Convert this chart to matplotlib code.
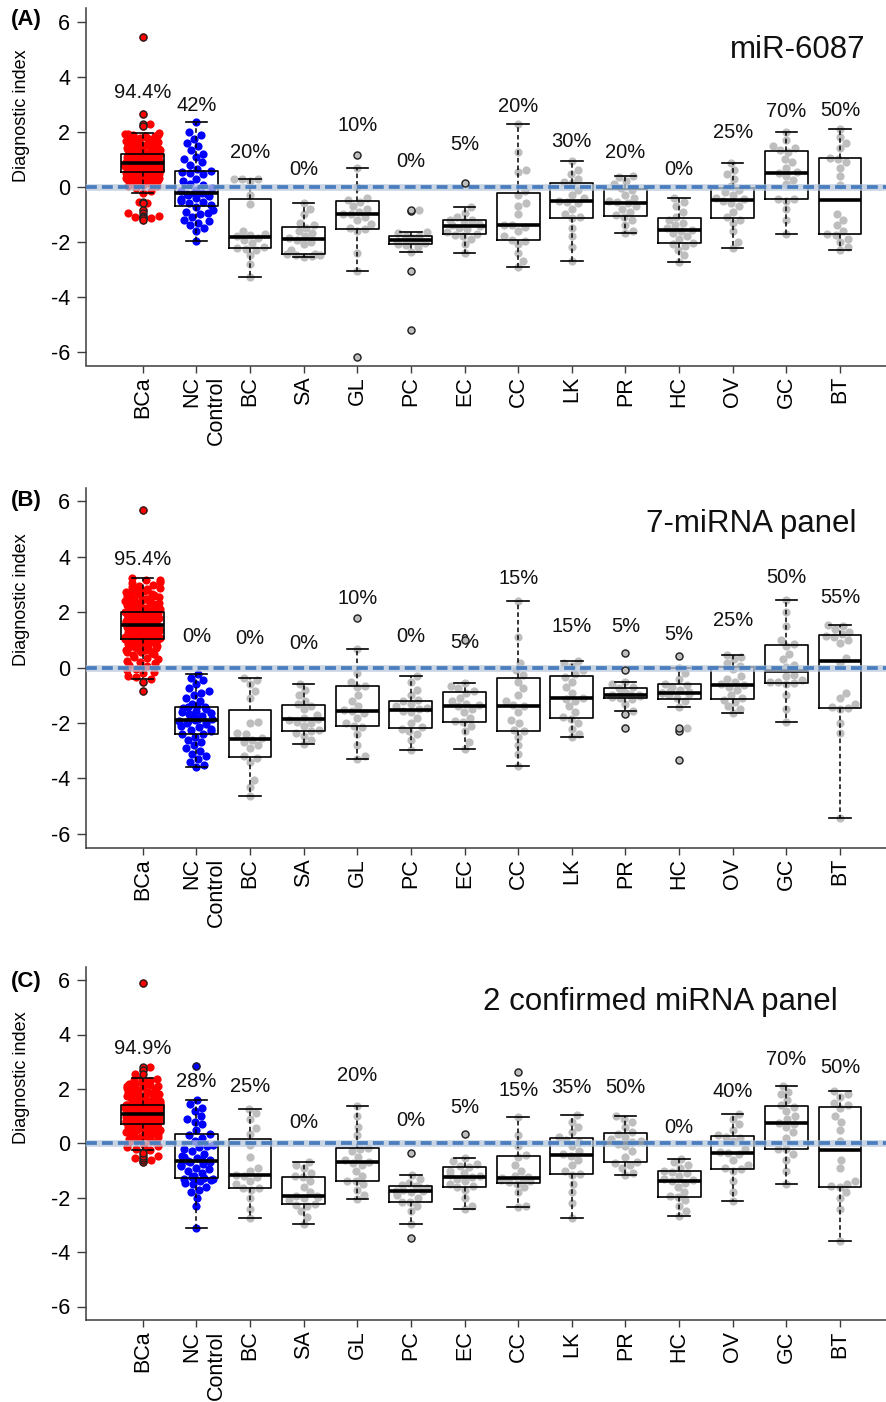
"""
Diagnostic index per sample group for three classifiers (miR-6087, 7-miRNA panel,
2 confirmed miRNA panel): beeswarm points with box plots and detection rates.
"""
import numpy as np
import matplotlib
matplotlib.use("Agg")
import matplotlib.pyplot as plt

plt.rcParams["font.family"] = ["Liberation Sans", "DejaVu Sans"]
plt.rcParams["axes.unicode_minus"] = False

GROUPS = ["BCa", "NC\nControl", "BC", "SA", "GL", "PC", "EC", "CC", "LK", "PR",
          "HC", "OV", "GC", "BT"]
TAGS = ["(A)", "(B)", "(C)"]
TITLES = ["miR-6087", "7-miRNA panel", "2 confirmed miRNA panel"]

# ---- percentages printed above each group -------------------------------------
pct_a = ["94.4%", "42%", "20%", "0%", "10%", "0%", "5%", "20%", "30%", "20%", "0%", "25%", "70%", "50%"]
pct_b = ["95.4%", "0%", "0%", "0%", "10%", "0%", "5%", "15%", "15%", "5%", "5%", "25%", "50%", "55%"]
pct_c = ["94.9%", "28%", "25%", "0%", "20%", "0%", "5%", "15%", "35%", "50%", "0%", "40%", "70%", "50%"]

# ---- box statistics: (low whisker, Q1, median, Q3, high whisker)
box_a = [(-0.22, 0.55, 0.85, 1.19, 1.94), (-1.97, -0.70, -0.22, 0.57, 2.36),
         (-3.27, -2.24, -1.82, -0.46, 0.30), (-2.55, -2.45, -1.90, -1.45, -0.60),
         (-3.05, -1.53, -0.99, -0.51, 0.70), (-2.36, -2.10, -1.95, -1.79, -1.64),
         (-2.40, -1.73, -1.42, -1.21, -0.75), (-2.93, -1.94, -1.39, -0.22, 2.30),
         (-2.70, -1.13, -0.52, 0.15, 0.93), (-1.70, -1.07, -0.58, -0.07, 0.39),
         (-2.73, -2.06, -1.58, -1.15, -0.42), (-2.22, -1.15, -0.48, -0.04, 0.87),
         (-1.73, -0.45, 0.51, 1.31, 2.00), (-2.30, -1.73, -0.48, 1.03, 2.10)]
box_b = [(-0.42, 1.02, 1.54, 2.02, 3.22), (-3.59, -2.39, -1.88, -1.41, -0.23),
         (-4.65, -3.23, -2.57, -1.52, -0.38), (-2.75, -2.27, -1.86, -1.34, -0.59),
         (-3.30, -2.12, -1.56, -0.68, 0.66), (-2.99, -2.18, -1.52, -1.20, -0.30),
         (-2.94, -1.95, -1.38, -0.88, -0.54), (-3.54, -2.27, -1.38, -0.38, 2.41),
         (-2.52, -1.82, -1.10, -0.29, 0.24), (-1.56, -1.10, -0.98, -0.72, -0.50),
         (-1.41, -1.14, -0.90, -0.60, -0.02), (-1.64, -1.13, -0.62, 0.01, 0.46),
         (-1.97, -0.54, -0.11, 0.81, 2.44), (-5.41, -1.44, 0.25, 1.18, 1.54)]
box_c = [(-0.25, 0.71, 1.08, 1.41, 2.39), (-3.13, -1.29, -0.64, 0.33, 1.59),
         (-2.73, -1.65, -1.17, 0.15, 1.26), (-2.98, -2.24, -1.93, -1.23, -0.68),
         (-2.06, -1.39, -0.70, -0.18, 1.37), (-2.98, -2.15, -1.75, -1.56, -1.17),
         (-2.42, -1.60, -1.23, -0.86, -0.53), (-2.35, -1.47, -1.26, -0.47, 0.98),
         (-2.73, -1.14, -0.43, 0.18, 1.03), (-1.17, -0.70, 0.02, 0.39, 1.00),
         (-2.67, -1.96, -1.37, -1.02, -0.59), (-2.11, -0.94, -0.34, 0.28, 1.08),
         (-1.51, -0.21, 0.73, 1.38, 2.12), (-3.58, -1.60, -0.25, 1.35, 1.92)]

# ---- individual samples ----------------------------------------------------------
bca_a = [5.45, 2.65, 2.30, 2.20,
         -0.22, -0.15, -0.05, -0.55, -0.60, -0.85, -0.95, -1.05, -1.10, -1.15, -1.20,
         0.02, 0.04, 0.06, 0.08, 0.10, 0.12, 0.13, 0.15, 0.17, 0.19, 0.20, 0.22, 0.24,
         0.25, 0.27, 0.28, 0.30, 0.31, 0.33, 0.34, 0.36, 0.37, 0.38, 0.40, 0.41, 0.42,
         0.43, 0.44, 0.45, 0.46, 0.47, 0.48, 0.49, 0.50, 0.51, 0.52, 0.53, 0.54,
         0.55, 0.56, 0.56, 0.57, 0.58, 0.58, 0.59, 0.60, 0.60, 0.61, 0.62, 0.62, 0.63,
         0.64, 0.64, 0.65, 0.66, 0.66, 0.67, 0.68, 0.68, 0.69, 0.70, 0.70, 0.71, 0.72,
         0.72, 0.73, 0.74, 0.74, 0.75, 0.76, 0.76, 0.77, 0.78, 0.78, 0.79, 0.80, 0.80,
         0.81, 0.82, 0.82, 0.83, 0.83, 0.84, 0.84, 0.85, 0.85, 0.85,
         0.86, 0.86, 0.87, 0.88, 0.88, 0.89, 0.90, 0.90, 0.91, 0.92, 0.92, 0.93, 0.94,
         0.94, 0.95, 0.96, 0.96, 0.97, 0.98, 0.98, 0.99, 1.00, 1.00, 1.01, 1.02, 1.02,
         1.03, 1.04, 1.04, 1.05, 1.06, 1.06, 1.07, 1.08, 1.08, 1.09, 1.10, 1.10, 1.11,
         1.12, 1.12, 1.13, 1.14, 1.15, 1.16, 1.17, 1.18, 1.19, 1.19,
         1.20, 1.21, 1.22, 1.24, 1.25, 1.26, 1.28, 1.29, 1.30, 1.32, 1.33, 1.35, 1.36,
         1.38, 1.39, 1.40, 1.42, 1.44, 1.45, 1.47, 1.48, 1.50, 1.52, 1.54, 1.55, 1.57,
         1.59, 1.60, 1.62, 1.64, 1.66, 1.68, 1.70, 1.72, 1.74, 1.76, 1.78, 1.80, 1.83,
         1.85, 1.87, 1.89, 1.91, 1.93, 1.94]
nc_a = [-1.97, -1.60, -1.50, -1.40, -1.30, -1.25, -1.20, -1.10, -1.00, -0.95, -0.90,
        -0.85, -0.72, -0.68, -0.60, -0.55, -0.50, -0.45, -0.40, -0.35, -0.30, -0.28,
        -0.25, -0.24, -0.23, -0.21, -0.15, -0.10, -0.05, 0.05, 0.10, 0.20, 0.30, 0.45,
        0.50, 0.55, 0.57, 0.65, 0.80, 0.90, 1.00, 1.10, 1.20, 1.35, 1.50, 1.60, 1.75,
        1.90, 2.00, 2.36]
rest_a = [
    [-3.27, -2.8, -2.5, -2.3, -2.25, -2.22, -2.2, -2.05, -1.95, -1.85, -1.8, -1.75, -1.72, -1.6, -0.63, -0.3, 0.22, 0.28, 0.3, 0.3],
    [-2.55, -2.52, -2.5, -2.47, -2.45, -2.44, -2.3, -2.1, -2.0, -1.92, -1.88, -1.8, -1.7, -1.6, -1.5, -1.4, -1.3, -1.0, -0.8, -0.6],
    [-6.18, -3.05, -2.4, -1.6, -1.55, -1.5, -1.35, -1.2, -1.1, -1.0, -0.98, -0.9, -0.8, -0.7, -0.55, -0.47, -0.4, -0.02, 0.7, 1.16],
    [-5.21, -3.07, -2.36, -2.2, -2.12, -2.08, -2.05, -2.0, -1.98, -1.96, -1.94, -1.9, -1.88, -1.85, -1.8, -1.78, -1.7, -1.64, -0.88, -0.85],
    [-2.4, -2.1, -1.9, -1.8, -1.75, -1.72, -1.65, -1.55, -1.5, -1.44, -1.4, -1.35, -1.3, -1.25, -1.22, -1.2, -1.1, -0.95, -0.75, 0.15],
    [-2.93, -2.7, -2.4, -2.1, -1.96, -1.92, -1.8, -1.6, -1.45, -1.4, -1.38, -1.0, -0.7, -0.6, -0.3, -0.15, 0.55, 0.61, 1.27, 2.3],
    [-2.7, -2.2, -1.8, -1.5, -1.15, -1.1, -1.0, -0.8, -0.6, -0.55, -0.5, -0.4, -0.3, -0.1, 0.12, 0.18, 0.3, 0.45, 0.6, 0.93],
    [-1.7, -1.6, -1.4, -1.2, -1.1, -1.04, -0.9, -0.8, -0.7, -0.6, -0.56, -0.5, -0.4, -0.3, -0.1, -0.04, 0.1, 0.2, 0.35, 0.39],
    [-2.73, -2.5, -2.3, -2.15, -2.08, -2.04, -1.9, -1.8, -1.7, -1.6, -1.56, -1.5, -1.4, -1.3, -1.2, -1.1, -0.9, -0.7, -0.55, -0.42],
    [-2.22, -2.0, -1.6, -1.3, -1.2, -1.1, -0.9, -0.7, -0.6, -0.5, -0.46, -0.4, -0.3, -0.2, -0.1, 0.02, 0.3, 0.45, 0.6, 0.87],
    [-1.73, -1.2, -0.8, -0.5, -0.45, -0.44, 0.1, 0.25, 0.4, 0.5, 0.52, 0.7, 0.9, 1.0, 1.28, 1.34, 1.4, 1.5, 1.7, 2.0],
    [-2.3, -2.2, -2.0, -1.9, -1.75, -1.71, -1.6, -1.4, -1.2, -1.0, 0.05, 0.4, 0.7, 0.9, 1.0, 1.06, 1.4, 1.6, 1.8, 2.1],
]

bca_b = [5.68, -0.86, -0.50, -0.42, -0.35, -0.30, -0.20, -0.15, -0.10, -0.05,
         0.05, 0.10, 0.15, 0.20, 0.25, 0.30, 0.35, 0.40, 0.44, 0.48, 0.52, 0.55, 0.58,
         0.60, 0.62, 0.64, 0.66, 0.68, 0.70, 0.72, 0.74, 0.76, 0.78, 0.80, 0.82, 0.84,
         0.85, 0.86, 0.88, 0.89, 0.90, 0.91, 0.92, 0.94, 0.95, 0.96, 0.97, 0.98, 0.99,
         1.01,
         1.02, 1.03, 1.04, 1.05, 1.06, 1.07, 1.08, 1.09, 1.10, 1.11, 1.12, 1.13, 1.14,
         1.15, 1.16, 1.17, 1.18, 1.19, 1.20, 1.21, 1.23, 1.24, 1.25, 1.26, 1.28, 1.29,
         1.30, 1.31, 1.33, 1.34, 1.35, 1.36, 1.38, 1.39, 1.40, 1.41, 1.42, 1.44, 1.45,
         1.46, 1.47, 1.48, 1.50, 1.51, 1.52, 1.53, 1.53, 1.54, 1.54,
         1.55, 1.56, 1.57, 1.58, 1.59, 1.60, 1.61, 1.62, 1.63, 1.64, 1.65, 1.66, 1.67,
         1.68, 1.69, 1.70, 1.71, 1.72, 1.73, 1.74, 1.75, 1.76, 1.77, 1.78, 1.79, 1.80,
         1.81, 1.82, 1.83, 1.84, 1.85, 1.86, 1.87, 1.88, 1.89, 1.90, 1.91, 1.92, 1.93,
         1.94, 1.95, 1.96, 1.97, 1.98, 1.99, 2.00, 2.00, 2.01, 2.02,
         2.03, 2.05, 2.07, 2.09, 2.11, 2.13, 2.15, 2.17, 2.19, 2.21, 2.23, 2.25, 2.27,
         2.29, 2.31, 2.33, 2.35, 2.37, 2.39, 2.41, 2.43, 2.45, 2.47, 2.49, 2.51, 2.53,
         2.55, 2.58, 2.60, 2.62, 2.65, 2.67, 2.70, 2.72, 2.75, 2.78, 2.80, 2.83, 2.86,
         2.88, 2.91, 2.95, 3.00, 3.05, 3.10, 3.15, 3.18, 3.22]
nc_b = [-3.59, -3.5, -3.4, -3.3, -3.2, -3.1, -3.0, -2.9, -2.8, -2.7, -2.6, -2.5, -2.4,
        -2.38, -2.3, -2.25, -2.2, -2.15, -2.1, -2.05, -2.0, -1.97, -1.94, -1.91, -1.89,
        -1.87, -1.84, -1.8, -1.76, -1.72, -1.68, -1.64, -1.6, -1.55, -1.5, -1.46, -1.43,
        -1.41, -1.38, -1.3, -1.2, -1.1, -1.0, -0.9, -0.85, -0.75, -0.6, -0.45, -0.38, -0.23]
rest_b = [
    [-4.65, -4.3, -4.05, -3.4, -3.25, -3.2, -2.9, -2.8, -2.7, -2.6, -2.55, -2.4, -2.36, -2.0, -1.95, -1.1, -0.86, -0.6, -0.45, -0.38],
    [-2.75, -2.6, -2.45, -2.35, -2.3, -2.25, -2.1, -2.0, -1.95, -1.88, -1.84, -1.8, -1.7, -1.5, -1.4, -1.3, -1.2, -1.0, -0.8, -0.59],
    [-3.3, -3.2, -2.8, -2.4, -2.15, -2.1, -2.0, -1.8, -1.65, -1.58, -1.54, -1.4, -1.2, -1.0, -0.7, -0.66, -0.5, -0.2, 0.66, 1.78],
    [-2.99, -2.6, -2.4, -2.3, -2.2, -2.16, -2.0, -1.8, -1.6, -1.55, -1.5, -1.45, -1.4, -1.3, -1.22, -1.18, -1.0, -0.8, -0.5, -0.3],
    [-2.94, -2.7, -2.3, -2.1, -1.97, -1.93, -1.8, -1.6, -1.5, -1.4, -1.36, -1.3, -1.2, -1.1, -0.9, -0.86, -0.75, -0.65, -0.54, 1.0],
    [-3.54, -3.1, -2.8, -2.5, -2.3, -2.24, -2.0, -1.9, -1.6, -1.4, -1.36, -1.2, -1.0, -0.75, -0.5, -0.26, -0.1, 0.16, 1.12, 2.41],
    [-2.52, -2.4, -2.2, -2.0, -1.85, -1.79, -1.6, -1.4, -1.2, -1.12, -1.08, -0.9, -0.7, -0.5, -0.35, -0.23, -0.1, 0.05, 0.15, 0.24],
    [-2.18, -1.68, -1.56, -1.3, -1.12, -1.08, -1.05, -1.02, -1.0, -0.99, -0.97, -0.95, -0.9, -0.85, -0.75, -0.7, -0.6, -0.5, -0.08, 0.52],
    [-3.33, -2.27, -2.18, -1.41, -1.2, -1.08, -1.0, -0.95, -0.92, -0.91, -0.89, -0.85, -0.8, -0.7, -0.62, -0.58, -0.4, -0.2, -0.02, 0.43],
    [-1.64, -1.5, -1.4, -1.25, -1.15, -1.11, -1.0, -0.8, -0.7, -0.64, -0.6, -0.5, -0.4, -0.3, -0.05, 0.07, 0.15, 0.3, 0.4, 0.46],
    [-1.97, -1.5, -1.0, -0.6, -0.55, -0.53, -0.5, -0.45, -0.3, -0.25, 0.03, 0.1, 0.3, 0.5, 0.78, 0.84, 1.0, 1.5, 2.0, 2.44],
    [-5.41, -2.36, -2.0, -1.5, -1.46, -1.42, -1.3, -1.1, -0.9, 0.15, 0.35, 0.9, 1.0, 1.1, 1.15, 1.21, 1.3, 1.4, 1.5, 1.54],
]

bca_c = [5.88, 2.82, 2.70, 2.55,
         -0.68, -0.62, -0.55, -0.45, -0.35, -0.25, -0.20, -0.15, -0.10, -0.05,
         0.03, 0.06, 0.09, 0.12, 0.15, 0.18, 0.20, 0.22, 0.25, 0.27, 0.30, 0.32, 0.34,
         0.36, 0.38, 0.40, 0.42, 0.44, 0.46, 0.48, 0.50, 0.51, 0.53, 0.54, 0.56, 0.57,
         0.58, 0.60, 0.61, 0.62, 0.63, 0.64, 0.65, 0.66, 0.67, 0.68, 0.69, 0.70, 0.70,
         0.71, 0.72, 0.72, 0.73, 0.74, 0.75, 0.76, 0.76, 0.77, 0.78, 0.79, 0.80, 0.80,
         0.81, 0.82, 0.83, 0.84, 0.84, 0.85, 0.86, 0.87, 0.88, 0.88, 0.89, 0.90, 0.91,
         0.92, 0.92, 0.93, 0.94, 0.95, 0.96, 0.96, 0.97, 0.98, 0.99, 1.00, 1.00, 1.01,
         1.02, 1.03, 1.04, 1.04, 1.05, 1.06, 1.06, 1.07, 1.07, 1.08,
         1.09, 1.09, 1.10, 1.11, 1.11, 1.12, 1.13, 1.13, 1.14, 1.15, 1.15, 1.16, 1.17,
         1.17, 1.18, 1.19, 1.19, 1.20, 1.21, 1.21, 1.22, 1.23, 1.23, 1.24, 1.25, 1.25,
         1.26, 1.27, 1.27, 1.28, 1.29, 1.29, 1.30, 1.31, 1.31, 1.32, 1.33, 1.33, 1.34,
         1.35, 1.35, 1.36, 1.37, 1.38, 1.39, 1.39, 1.40, 1.41, 1.41,
         1.42, 1.44, 1.46, 1.48, 1.50, 1.52, 1.54, 1.56, 1.58, 1.60, 1.62, 1.64, 1.66,
         1.68, 1.70, 1.72, 1.74, 1.76, 1.78, 1.80, 1.82, 1.84, 1.86, 1.88, 1.90, 1.92,
         1.94, 1.96, 1.98, 2.00, 2.02, 2.05, 2.08, 2.10, 2.12, 2.15, 2.18, 2.20, 2.22,
         2.25, 2.28, 2.30, 2.33, 2.36, 2.39]
nc_c = [-3.13, -2.3, -2.0, -1.8, -1.7, -1.6, -1.5, -1.45, -1.4, -1.35, -1.32, -1.3,
        -1.29, -1.25, -1.2, -1.1, -1.0, -0.95, -0.9, -0.85, -0.8, -0.75, -0.7, -0.67,
        -0.65, -0.63, -0.6, -0.55, -0.5, -0.45, -0.4, -0.3, -0.2, -0.15, -0.1, -0.05,
        0.1, 0.2, 0.3, 0.35, 0.5, 0.7, 0.8, 0.9, 1.0, 1.2, 1.3, 1.45, 1.59, 2.84]
rest_c = [
    [-2.73, -2.4, -2.0, -1.7, -1.66, -1.64, -1.5, -1.4, -1.25, -1.2, -1.15, -1.0, -0.9, -0.5, -0.05, 0.35, 0.56, 0.9, 1.1, 1.26],
    [-2.98, -2.7, -2.5, -2.3, -2.25, -2.23, -2.1, -2.0, -1.96, -1.94, -1.92, -1.8, -1.6, -1.4, -1.25, -1.21, -1.1, -0.9, -0.8, -0.68],
    [-2.06, -1.9, -1.7, -1.5, -1.4, -1.38, -1.2, -1.0, -0.8, -0.72, -0.68, -0.6, -0.5, -0.3, -0.2, -0.16, 0.3, 0.6, 1.0, 1.37],
    [-3.47, -2.98, -2.5, -2.3, -2.16, -2.14, -2.0, -1.9, -1.8, -1.76, -1.74, -1.7, -1.65, -1.6, -1.57, -1.55, -1.45, -1.3, -1.17, -0.37],
    [-2.42, -2.3, -2.0, -1.7, -1.62, -1.58, -1.5, -1.4, -1.3, -1.25, -1.21, -1.15, -1.1, -1.0, -0.88, -0.84, -0.75, -0.65, -0.53, 0.33],
    [-2.35, -2.3, -1.8, -1.6, -1.5, -1.44, -1.4, -1.35, -1.3, -1.27, -1.25, -1.2, -1.0, -0.8, -0.5, -0.44, -0.1, 0.3, 0.98, 2.63],
    [-2.73, -2.2, -1.8, -1.5, -1.16, -1.12, -1.0, -0.8, -0.6, -0.45, -0.41, -0.3, -0.1, 0.05, 0.12, 0.24, 0.4, 0.6, 0.8, 1.03],
    [-1.17, -1.1, -0.9, -0.8, -0.72, -0.68, -0.5, -0.3, -0.1, -0.02, 0.06, 0.1, 0.15, 0.25, 0.36, 0.42, 0.6, 0.8, 0.9, 1.0],
    [-2.67, -2.5, -2.3, -2.1, -1.98, -1.94, -1.8, -1.6, -1.45, -1.39, -1.35, -1.3, -1.2, -1.1, -1.04, -1.0, -0.9, -0.8, -0.7, -0.59],
    [-2.11, -1.8, -1.4, -1.0, -0.96, -0.92, -0.8, -0.6, -0.4, -0.36, -0.32, -0.2, 0.1, 0.2, 0.25, 0.31, 0.5, 0.7, 0.9, 1.08],
    [-1.51, -1.0, -0.6, -0.4, -0.22, -0.2, 0.2, 0.4, 0.6, 0.7, 0.76, 0.9, 1.0, 1.2, 1.35, 1.41, 1.6, 1.8, 1.9, 2.12],
    [-3.58, -2.4, -2.0, -1.8, -1.62, -1.58, -1.5, -1.4, -0.9, -0.6, 0.1, 0.5, 0.8, 1.0, 1.3, 1.4, 1.5, 1.7, 1.8, 1.92],
]

# height (data units) at which each percentage is printed
pct_y_a = [3.41, 2.96, 1.23, 0.61, 2.23, 0.91, 1.55, 2.91, 1.64, 1.23, 0.63, 1.99, 2.72, 2.78]
pct_y_b = [3.92, 1.12, 1.06, 0.87, 2.51, 1.11, 0.90, 3.22, 1.50, 1.50, 1.19, 1.71, 3.27, 2.55]
pct_y_c = [3.48, 2.29, 2.07, 0.76, 2.50, 0.84, 1.32, 1.95, 2.04, 2.04, 0.57, 1.92, 3.07, 2.80]

COLORS = ["#ff0000", "#0000ff"] + ["#bebebe"] * 12
AX_EDGE = "#3c3c3c"
CUT_COLOR = "#4a7dbd"

W, H = 886, 1402
# pixel frame of each panel: (top, bottom)
PANEL_PX = [(8.0, 365.5), (487.6, 847.7), (966.5, 1320.1)]
LEFT_PX, RIGHT_PX = 86, 886
DOT_PX = 8.2
TICK_LEN, TICK_PAD = 5.0, 2.5


def swarm_x(vals, px_x, px_y, diam, half):
    """beeswarm offsets (data x units); points wrapped into +-half."""
    vals = np.asarray(vals, float)
    order = np.argsort(vals, kind="stable")
    ys = vals[order] * px_y
    xs = np.zeros(len(ys))
    for i in range(len(ys)):
        y = ys[i]
        px, py = xs[:i], ys[:i]
        near = np.abs(py - y) < diam
        px, py = px[near], py[near]
        if len(px) == 0:
            continue
        dx = np.sqrt(diam ** 2 - (py - y) ** 2)
        cand = np.concatenate([[0.0], px + dx, px - dx])
        cand = cand[np.argsort(np.abs(cand), kind="stable")]
        for c in cand:
            if np.all((c - px) ** 2 + (py - y) ** 2 >= diam ** 2 - 1e-6):
                xs[i] = c
                break
    half_px = half * px_x
    xs = (xs + half_px) % (2 * half_px) - half_px
    out = np.empty_like(xs)
    out[order] = xs / px_x
    return out


def draw_panel(fig, k, points, boxes, pcts, pct_ys):
    top, bot = PANEL_PX[k]
    ax = fig.add_axes([LEFT_PX / W, 1 - bot / H, (RIGHT_PX - LEFT_PX) / W, (bot - top) / H])
    ax.set_xlim(-0.057, 14.857)
    ax.set_ylim(-6.5, 6.5)
    px_x = (RIGHT_PX - LEFT_PX) / (14.857 + 0.057)
    px_y = (bot - top) / 13.0
    s = (DOT_PX * 72 / 100) ** 2

    for i, (vals, color) in enumerate(zip(points, COLORS)):
        pos = i + 1
        vals = np.asarray(vals, float)
        off = swarm_x(vals, px_x, px_y, DOT_PX, 0.33)
        ax.scatter(pos + off, vals, s=s, color=color, linewidths=0, zorder=2)

    stats = [dict(whislo=b[0], q1=b[1], med=b[2], q3=b[3], whishi=b[4], fliers=[])
             for b in boxes]
    ax.bxp(stats, positions=range(1, 15), widths=0.8, capwidths=0.4,
           showfliers=False, patch_artist=False, zorder=3,
           boxprops=dict(color="black", linewidth=1.2),
           whiskerprops=dict(color="black", linewidth=1.1, linestyle=(0, (3, 2))),
           capprops=dict(color="black", linewidth=1.2),
           medianprops=dict(color="black", linewidth=2.6, solid_capstyle="butt"))

    # outliers: samples beyond the whiskers, drawn on the box centre
    for i, (vals, b, color) in enumerate(zip(points, boxes, COLORS)):
        vals = np.asarray(vals, float)
        out = vals[(vals < b[0] - 1e-9) | (vals > b[4] + 1e-9)]
        ax.scatter(np.full(len(out), i + 1), out, s=(7.0 * 0.72) ** 2,
                   facecolor=color, edgecolor="#222222", linewidths=1.0, zorder=6)

    ax.axhline(0, color="#b9c8dc", linewidth=4.8, alpha=0.75, zorder=4)
    ax.axhline(0, color=CUT_COLOR, linewidth=2.7, linestyle=(0, (2.9, 1.35)), zorder=5)

    for i, (t, y) in enumerate(zip(pcts, pct_ys)):
        ax.text(i + 1, y, t, ha="center", va="center", fontsize=14.5, color="#111111")

    for side in ("top", "right"):
        ax.spines[side].set_visible(False)
    for side in ("left", "bottom"):
        ax.spines[side].set_color(AX_EDGE)
        ax.spines[side].set_linewidth(1.1)

    ax.set_yticks([-6, -4, -2, 0, 2, 4, 6])
    ax.set_xticks(range(1, 15))
    # the two-line label sits a little right of its tick, so it is placed by hand
    ax.set_xticklabels(["" if "\n" in g else g for g in GROUPS], rotation=90,
                       va="top", ha="center", fontsize=15.5)
    for i, g in enumerate(GROUPS):
        if "\n" in g:
            ax.annotate(g, xy=(i + 1, 0), xycoords=ax.get_xaxis_transform(),
                        xytext=(5.5, -(TICK_LEN + TICK_PAD)), textcoords="offset points",
                        rotation=90, ha="center", va="top", multialignment="right",
                        fontsize=15.5)
    ax.tick_params(axis="y", length=6.3, width=1.0, pad=5, labelsize=15.5, color=AX_EDGE)
    ax.tick_params(axis="x", length=TICK_LEN, width=1.0, pad=TICK_PAD, color=AX_EDGE)
    return ax


fig = plt.figure(figsize=(W / 100, H / 100), dpi=100)

panels = [
    ([bca_a, nc_a] + rest_a, box_a, pct_a, pct_y_a),
    ([bca_b, nc_b] + rest_b, box_b, pct_b, pct_y_b),
    ([bca_c, nc_c] + rest_c, box_c, pct_c, pct_y_c),
]
# title right edge (x data units) and baseline (y data units)
title_xy = [(14.47, 4.70), (14.30, 4.89), (13.96, 4.90)]
tag_y_px = [20, 500, 981]
ylab_y_px = [116, 600, 1078]

for k, (pts, boxes, pcts, pys) in enumerate(panels):
    ax = draw_panel(fig, k, pts, boxes, pcts, pys)
    tx, ty = title_xy[k]
    ax.text(tx, ty, TITLES[k], ha="right", va="baseline", fontsize=22.5, color="#111111")
    fig.text(11 / W, 1 - tag_y_px[k] / H, TAGS[k], ha="left", va="center",
             fontsize=16, fontweight="bold")
    fig.text(22 / W, 1 - ylab_y_px[k] / H, "Diagnostic index", rotation=90,
             ha="center", va="center", fontsize=13)

fig.savefig("out.png", dpi=100)
